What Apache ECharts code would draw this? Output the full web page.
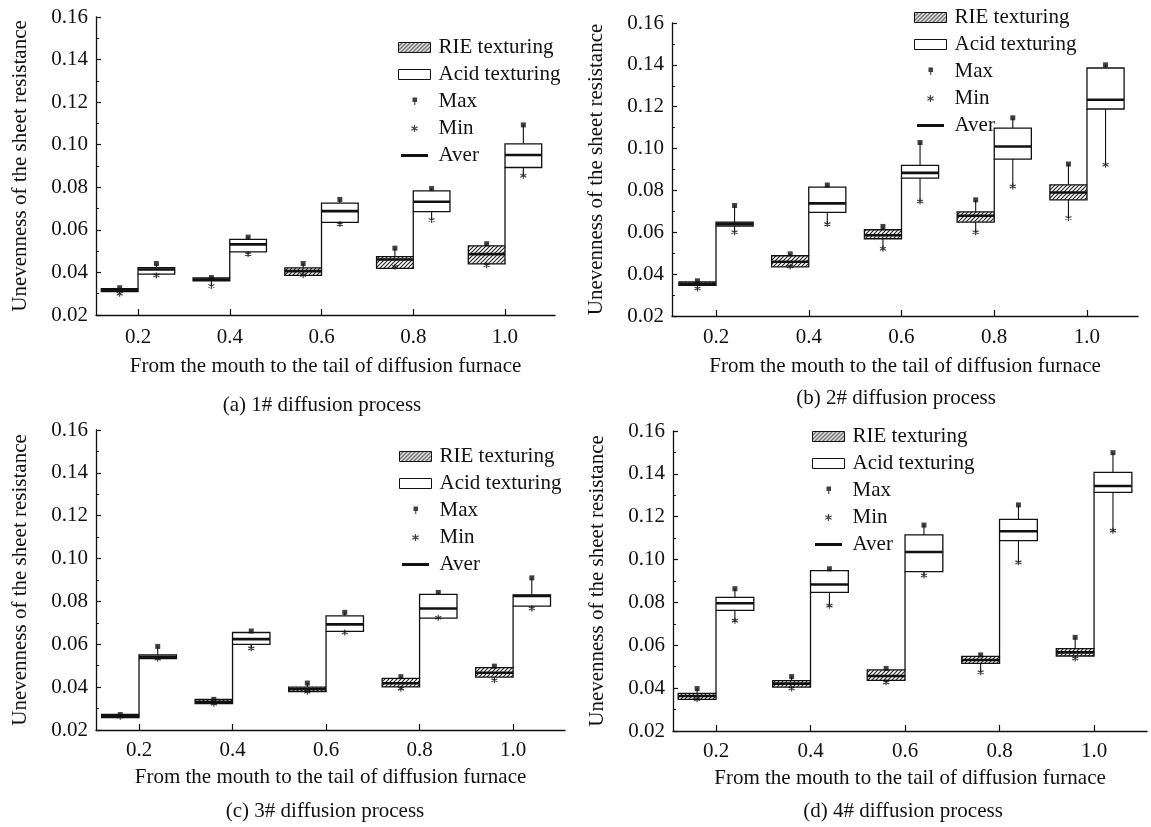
<!DOCTYPE html>
<html>
<head>
<meta charset="utf-8">
<script src="https://cdn.jsdelivr.net/npm/echarts@6/dist/echarts.min.js"></script>
<style>
html, body { margin: 0; background: #fff; }
#chart { width: 1151px; height: 827px; }
</style>
</head>
<body>
<div id="chart"></div>
<script>
// positions along the furnace (x axis)
var positions = [0.2, 0.4, 0.6, 0.8, 1.0];
var yTicks = [0.02, 0.16];

// each row: [box low, box high, aver, min, max]
var rie1 = [[0.0310, 0.0324, 0.0317, 0.0300, 0.0328], [0.0361, 0.0374, 0.0367, 0.0336, 0.0376], [0.0386, 0.0421, 0.0406, 0.0388, 0.0442], [0.0419, 0.0474, 0.0461, 0.0427, 0.0514], [0.0440, 0.0525, 0.0486, 0.0434, 0.0535]];
var acid1 = [[0.0392, 0.0422, 0.0414, 0.0386, 0.0442], [0.0497, 0.0555, 0.0532, 0.0486, 0.0566], [0.0635, 0.0726, 0.0688, 0.0627, 0.0743], [0.0686, 0.0783, 0.0732, 0.0646, 0.0794], [0.0893, 0.1004, 0.0952, 0.0854, 0.1093]];

var rie2 = [[0.0347, 0.0363, 0.0354, 0.0331, 0.0368], [0.0435, 0.0488, 0.0459, 0.0437, 0.0497], [0.0569, 0.0612, 0.0586, 0.0521, 0.0628], [0.0649, 0.0698, 0.0679, 0.0600, 0.0755], [0.0755, 0.0827, 0.0790, 0.0668, 0.0926]];
var acid2 = [[0.0630, 0.0649, 0.0640, 0.0600, 0.0728], [0.0695, 0.0816, 0.0738, 0.0639, 0.0826], [0.0859, 0.0920, 0.0884, 0.0747, 0.1029], [0.0950, 0.1098, 0.1010, 0.0819, 0.1147], [0.1189, 0.1385, 0.1233, 0.0923, 0.1400]];

var rie3 = [[0.0258, 0.0273, 0.0265, 0.0262, 0.0272], [0.0323, 0.0343, 0.0332, 0.0323, 0.0343], [0.0379, 0.0400, 0.0390, 0.0379, 0.0419], [0.0401, 0.0441, 0.0418, 0.0393, 0.0449], [0.0447, 0.0491, 0.0467, 0.0432, 0.0498]];
var acid3 = [[0.0533, 0.0551, 0.0542, 0.0533, 0.0590], [0.0600, 0.0655, 0.0624, 0.0581, 0.0662], [0.0660, 0.0733, 0.0693, 0.0655, 0.0749], [0.0722, 0.0833, 0.0767, 0.0724, 0.0842], [0.0778, 0.0831, 0.0825, 0.0767, 0.0910]];

var rie4 = [[0.0348, 0.0376, 0.0363, 0.0348, 0.0398], [0.0405, 0.0435, 0.0421, 0.0398, 0.0454], [0.0436, 0.0485, 0.0457, 0.0427, 0.0492], [0.0516, 0.0548, 0.0531, 0.0474, 0.0555], [0.0550, 0.0584, 0.0567, 0.0538, 0.0637]];
var acid4 = [[0.0763, 0.0824, 0.0796, 0.0715, 0.0864], [0.0847, 0.0948, 0.0884, 0.0785, 0.0957], [0.0944, 0.1115, 0.1035, 0.0926, 0.1161], [0.1088, 0.1188, 0.1132, 0.0987, 0.1255], [0.1314, 0.1407, 0.1343, 0.1135, 0.1499]];

var captions = ['(a) 1# diffusion process', '(b) 2# diffusion process', '(c) 3# diffusion process', '(d) 4# diffusion process'];
var xName = 'From the mouth to the tail of diffusion furnace';
var yName = 'Unevenness of the sheet resistance';

var FONT = "'Liberation Serif', 'DejaVu Serif', serif";
var INK = '#111';
var BOX_W = 0.08; // box width in x units

// layout of the 4 panels
var panels = [
    { grid: [96, 17, 459, 298], xr: [0.1084, 1.109], lbl: 12, gap: 41, leg: [393, 32], cap: [322, 395], rie: rie1, acid: acid1 },
    { grid: [672, 23, 466, 293], xr: [0.1051, 1.110], lbl: 11, gap: 40, leg: [909, 2], cap: [896, 388], rie: rie2, acid: acid2 },
    { grid: [96, 430, 469, 300], xr: [0.108, 1.111], lbl: 10, gap: 37, leg: [394, 441], cap: [325, 801], rie: rie3, acid: acid3 },
    { grid: [673, 431, 474, 300], xr: [0.109, 1.112], lbl: 10, gap: 37, leg: [807, 421], cap: [903, 801], rie: rie4, acid: acid4 }
];

function makeHatch() {
    var c = document.createElement('canvas');
    c.width = 4; c.height = 4;
    var ctx = c.getContext('2d');
    ctx.fillStyle = '#fff';
    ctx.fillRect(0, 0, 4, 4);
    ctx.strokeStyle = '#222';
    ctx.lineWidth = 1.1;
    ctx.beginPath();
    ctx.moveTo(0, 4); ctx.lineTo(4, 0);
    ctx.moveTo(-1, 1); ctx.lineTo(1, -1);
    ctx.moveTo(3, 5); ctx.lineTo(5, 3);
    ctx.stroke();
    return c;
}
var hatch = { image: makeHatch(), repeat: 'repeat' };

var starPath = 'M5,0L5,10M0.67,2.5L9.33,7.5M9.33,2.5L0.67,7.5';
var maxIcon = 'path://M-2,-1M6,9M0,0H4.5V4.5H2.8V7.5H1.7V4.5H0Z';
var minIcon = 'path://M-2,-2M12,12' + starPath;
var averIcon = 'path://M-2.5,0M29.5,0M0,0H27V3H0Z';

function boxRender(side) {
    return function (params, api) {
        var x = api.value(0), lo = api.value(1), hi = api.value(2);
        var mn = api.value(4), mx = api.value(5);
        var xl = side < 0 ? x - BOX_W : x;
        var xr = side < 0 ? x : x + BOX_W;
        var xc = (xl + xr) / 2;
        var tl = api.coord([xl, hi]), br = api.coord([xr, lo]);
        var children = [];
        if (mx > hi) {
            var a = api.coord([xc, hi]), b = api.coord([xc, mx]);
            children.push({ type: 'line', shape: { x1: a[0], y1: a[1], x2: b[0], y2: b[1] }, style: { stroke: INK, lineWidth: 1.1 } });
        }
        if (mn < lo) {
            var c = api.coord([xc, lo]), d = api.coord([xc, mn]);
            children.push({ type: 'line', shape: { x1: c[0], y1: c[1], x2: d[0], y2: d[1] }, style: { stroke: INK, lineWidth: 1.1 } });
        }
        children.push({
            type: 'rect',
            shape: { x: tl[0], y: tl[1], width: br[0] - tl[0], height: br[1] - tl[1] },
            style: { fill: side < 0 ? hatch : '#fff', stroke: INK, lineWidth: 1.3 }
        });
        if (side > 0) {
            // step line from the RIE box up to the acid box
            var e = api.coord([x, api.value(6)]), f = api.coord([x, lo]);
            children.push({ type: 'line', shape: { x1: e[0], y1: e[1], x2: f[0], y2: f[1] }, style: { stroke: INK, lineWidth: 1.3 } });
        }
        return { type: 'group', children: children };
    };
}

function averRender(params, api) {
    var a = api.coord([api.value(0), api.value(2)]);
    var b = api.coord([api.value(1), api.value(2)]);
    return { type: 'line', shape: { x1: a[0], y1: a[1], x2: b[0], y2: b[1] }, style: { stroke: INK, lineWidth: 2.6 } };
}

var grids = [], xAxes = [], yAxes = [], legends = [], titles = [], series = [];

panels.forEach(function (p, i) {
    grids.push({ left: p.grid[0], top: p.grid[1], width: p.grid[2], height: p.grid[3] });

    xAxes.push({
        type: 'value', gridIndex: i, min: p.xr[0], max: p.xr[1],
        name: xName, nameLocation: 'middle', nameGap: p.gap,
        nameTextStyle: { fontFamily: FONT, fontSize: 21, color: INK },
        splitLine: { show: false },
        axisLine: { show: true, lineStyle: { color: INK, width: 1.3 } },
        axisTick: { show: true, inside: true, length: 6, customValues: positions, lineStyle: { color: INK, width: 1.2 } },
        axisLabel: {
            customValues: positions, margin: p.lbl, fontFamily: FONT, fontSize: 21, color: INK,
            formatter: function (v) { return v.toFixed(1); }
        }
    });

    yAxes.push({
        type: 'value', gridIndex: i, min: yTicks[0], max: yTicks[1], interval: 0.02,
        name: yName, nameLocation: 'middle', nameGap: 65,
        nameTextStyle: { fontFamily: FONT, fontSize: 21, color: INK },
        splitLine: { show: false },
        axisLine: { show: true, lineStyle: { color: INK, width: 1.3 } },
        axisTick: { show: true, inside: true, length: 5, lineStyle: { color: INK, width: 1.2 } },
        minorTick: { show: true, splitNumber: 2, length: 3, lineStyle: { color: INK, width: 1 } },
        axisLabel: {
            margin: 8, fontFamily: FONT, fontSize: 21, color: INK,
            formatter: function (v) { return v.toFixed(2); }
        }
    });

    legends.push({
        orient: 'vertical', left: p.leg[0], top: p.leg[1],
        itemWidth: 32, itemHeight: 10, itemGap: 6, selectedMode: false,
        textStyle: { fontFamily: FONT, fontSize: 21, color: INK, lineHeight: 21, padding: [0, 0, 0, 3] },
        data: [
            { name: 'RIE texturing', icon: 'rect', itemStyle: { color: hatch, borderColor: INK, borderWidth: 1 } },
            { name: 'Acid texturing', icon: 'rect', itemStyle: { color: '#fff', borderColor: INK, borderWidth: 1 } },
            { name: 'Max', icon: maxIcon, itemStyle: { color: INK, borderWidth: 0 } },
            { name: 'Min', icon: minIcon, itemStyle: { color: INK, borderColor: INK, borderWidth: 1.2 } },
            { name: 'Aver', icon: averIcon, itemStyle: { color: INK, borderWidth: 0 } }
        ]
    });

    titles.push({
        text: captions[i], left: p.cap[0], top: p.cap[1], textAlign: 'center', padding: 0,
        textStyle: { fontFamily: FONT, fontSize: 21, fontWeight: 'normal', color: INK }
    });

    var rieData = positions.map(function (x, k) { return [x].concat(p.rie[k]); });
    var acidData = positions.map(function (x, k) { return [x].concat(p.acid[k], [p.rie[k][1]]); });
    var averData = [], maxData = [], minData = [];
    positions.forEach(function (x, k) {
        averData.push([x - BOX_W, x, p.rie[k][2]], [x, x + BOX_W, p.acid[k][2]]);
        maxData.push([x - BOX_W / 2, p.rie[k][4]], [x + BOX_W / 2, p.acid[k][4]]);
        minData.push([x - BOX_W / 2, p.rie[k][3]], [x + BOX_W / 2, p.acid[k][3]]);
    });

    series.push(
        { name: 'RIE texturing', type: 'custom', xAxisIndex: i, yAxisIndex: i, z: 2, renderItem: boxRender(-1), encode: { x: 0, y: [1, 2] }, data: rieData },
        { name: 'Acid texturing', type: 'custom', xAxisIndex: i, yAxisIndex: i, z: 2, renderItem: boxRender(1), encode: { x: 0, y: [1, 2] }, data: acidData },
        { name: 'Aver', type: 'custom', xAxisIndex: i, yAxisIndex: i, z: 3, renderItem: averRender, encode: { x: [0, 1], y: 2 }, data: averData },
        { name: 'Max', type: 'scatter', xAxisIndex: i, yAxisIndex: i, z: 4, symbol: 'rect', symbolSize: 5, itemStyle: { color: INK }, data: maxData },
        { name: 'Min', type: 'scatter', xAxisIndex: i, yAxisIndex: i, z: 4, symbol: 'path://' + starPath, symbolSize: 6, itemStyle: { color: INK, borderColor: INK, borderWidth: 1.2 }, data: minData }
    );
});

var chart = echarts.init(document.getElementById('chart'));
chart.setOption({
    backgroundColor: '#fff',
    animation: false,
    title: titles,
    legend: legends,
    grid: grids,
    xAxis: xAxes,
    yAxis: yAxes,
    series: series
});
</script>
</body>
</html>
